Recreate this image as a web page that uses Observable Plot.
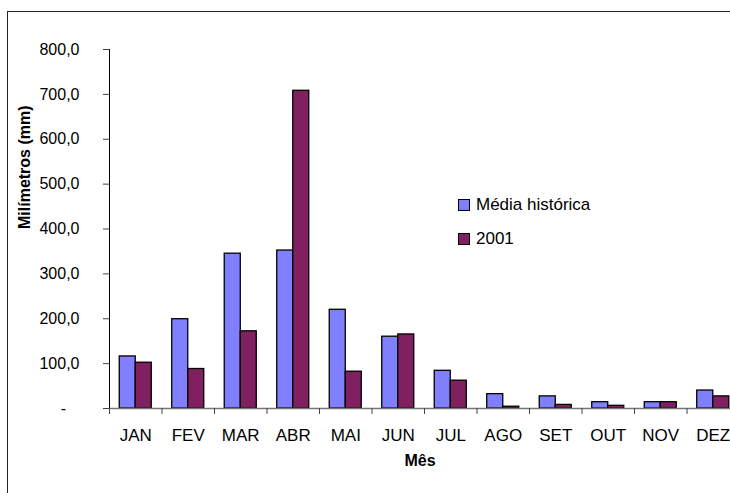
<!DOCTYPE html>
<html>
<head>
<meta charset="utf-8">
<script src="https://cdn.jsdelivr.net/npm/d3@7"></script>
<script src="https://cdn.jsdelivr.net/npm/@observablehq/plot@0.6"></script>
<style>
  html, body { margin: 0; padding: 0; background: #fff; overflow: hidden; }
  #wrap { position: relative; width: 730px; height: 493px; overflow: hidden; font-family: "Liberation Sans", Arial, sans-serif; }
  #frame { position: absolute; left: 7px; top: 11px; width: 800px; height: 600px; border: 1px solid #222; box-sizing: border-box; pointer-events: none; }
  #chart { position: absolute; left: 0; top: 0; }
  .leg { position: absolute; display: flex; align-items: center; font-size: 17px; color: #000; }
  .sw { width: 12px; height: 12px; border: 1px solid #000; margin-right: 6px; box-sizing: border-box; }
</style>
</head>
<body>
<div id="wrap">
  <div id="frame"></div>
  <div id="chart"></div>
  <div id="legend"></div>
</div>
<script>
const months = ["JAN","FEV","MAR","ABR","MAI","JUN","JUL","AGO","SET","OUT","NOV","DEZ"];
const mediaHistorica = [116,199,345,352,220,160,84,32,27,14,14,40];
const ano2001 = [102,88,172,708,82,165,62,4,8,6,14,27];
const seriesNames = ["Média histórica","2001"];
const seriesColors = ["#8080FF","#802060"];
const yTicks = [0,100,200,300,400,500,600,700,800];

const rowsA = months.map((m,i)=>({i, month:m, value:mediaHistorica[i]}));
const rowsB = months.map((m,i)=>({i, month:m, value:ano2001[i]}));

const fmt = d => d === 0 ? "-   " : d.toFixed(1).replace(".", ",");

const chart = Plot.plot({
  width: 730,
  height: 493,
  marginLeft: 109,
  marginTop: 49,
  marginBottom: 85,
  marginRight: 0,
  style: {fontFamily: "'Liberation Sans', Arial, sans-serif", fontSize: "16px", color: "#000", background: "transparent"},
  x: {domain: [0, 12], range: [109, 739]},
  y: {domain: [0, 800], range: [408, 49]},
  marks: [
    Plot.rectY(rowsA, {x1: d => d.i + 0.195, x2: d => d.i + 0.5, y: "value", fill: seriesColors[0], stroke: "#000", strokeWidth: 1.3}),
    Plot.rectY(rowsB, {x1: d => d.i + 0.5, x2: d => d.i + 0.805, y: "value", fill: seriesColors[1], stroke: "#000", strokeWidth: 1.3}),
    Plot.ruleY([0], {stroke: "#777", strokeWidth: 1.5}),
    Plot.ruleX([0], {stroke: "#000", strokeWidth: 1}),
    Plot.axisY({ticks: yTicks, tickFormat: fmt, tickSize: 6, tickPadding: 24, label: null, stroke: "#444", fontSize: 16}),
    Plot.axisX({ticks: d3.range(0, 13), tickSize: 6, tickFormat: () => "", label: null, stroke: "#444"}),
    Plot.axisX({ticks: d3.range(12).map(i => i + 0.5), tickSize: 0, tickPadding: 20, tickFormat: d => months[Math.floor(d)], label: null, fontSize: 17}),
    Plot.text(["Mês"], {frameAnchor: "bottom", dy: 57, fontWeight: "bold", fontSize: 16}),
    Plot.text(["Milímetros (mm)"], {frameAnchor: "left", dx: -85, rotate: -90, fontWeight: "bold", fontSize: 16})
  ]
});
document.getElementById("chart").appendChild(chart);

const legend = document.getElementById("legend");
const legPos = [{left: 458, top: 195}, {left: 458, top: 229}];
seriesNames.forEach((name, k) => {
  const el = document.createElement("div");
  el.className = "leg";
  el.style.left = legPos[k].left + "px";
  el.style.top = legPos[k].top + "px";
  el.innerHTML = `<div class="sw" style="background:${seriesColors[k]}"></div><span>${name}</span>`;
  legend.appendChild(el);
});
</script>
</body>
</html>
